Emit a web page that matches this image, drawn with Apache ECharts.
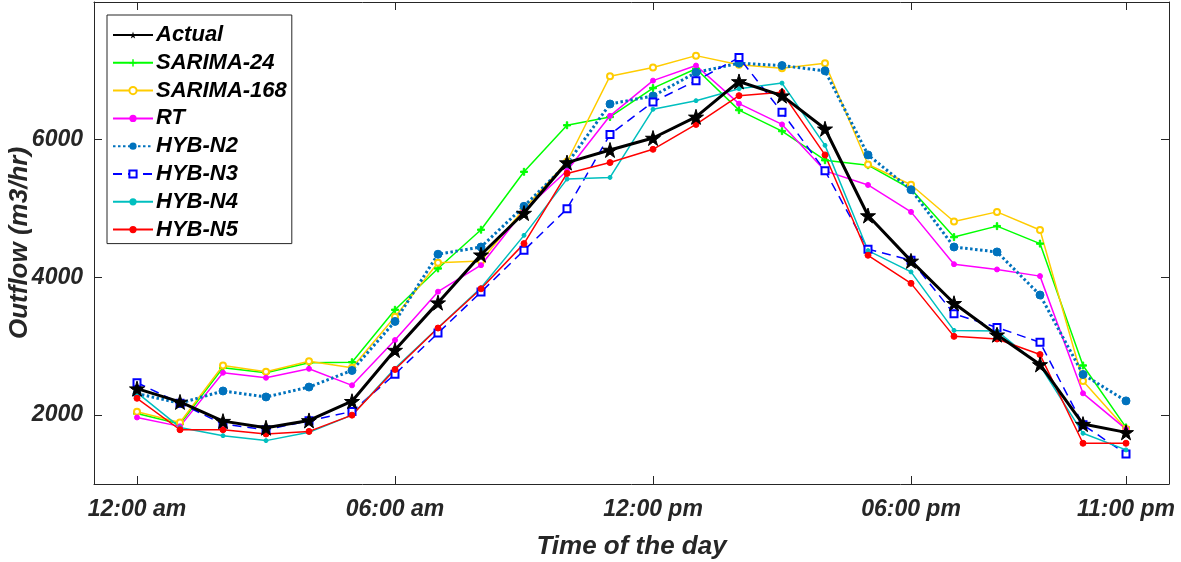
<!DOCTYPE html>
<html>
<head>
<meta charset="utf-8">
<script src="https://cdn.jsdelivr.net/npm/echarts@6/dist/echarts.min.js"></script>
<style>
html,body{margin:0;padding:0;background:#fff;}
#chart{width:1181px;height:562px;}
</style>
</head>
<body>
<div id="chart"></div>
<script>
// ---- data ----
const hours = [0,1,2,3,4,5,6,7,8,9,10,11,12,13,14,15,16,17,18,19,20,21,22,23];
const xTickValues = [0, 6, 12, 18, 23];
const xTickLabels = ['12:00 am', '06:00 am', '12:00 pm', '06:00 pm', '11:00 pm'];
const yTickValues = [2000, 4000, 6000];
const seriesNames = ['Actual','SARIMA-24','SARIMA-168','RT','HYB-N2','HYB-N3','HYB-N4','HYB-N5'];

const actual    = [2385,2192,1913,1817,1923,2202,2945,3634,4330,4935,5668,5851,6025,6332,6846,6640,6159,4899,4240,3625,3168,2736,1870,1750];
const sarima24  = [2024,1870,2688,2616,2760,2769,3530,4130,4693,5534,6210,6330,6750,7030,6430,6125,5702,5630,5284,4586,4745,4491,2721,1822];
const sarima168 = [2048,1894,2721,2630,2784,2688,3428,4212,4238,4996,5680,6923,7048,7221,7088,7038,7110,5640,5346,4813,4952,4688,2495,1798];
const rt        = [1966,1837,2616,2543,2673,2433,3090,3793,4178,4971,5550,6347,6858,7077,6524,6222,5548,5343,4952,4192,4116,4019,2317,1798];
const hybN2     = [2313,2173,2351,2264,2408,2649,3361,4337,4442,5033,5650,6519,6635,6976,7111,7077,7000,5779,5274,4442,4370,3745,2591,2207];
const hybN3     = [2472,2173,1870,1788,1918,2053,2595,3192,3788,4394,4996,6077,6548,6856,7193,6399,5548,4409,4250,3471,3274,3057,1860,1437];
const hybN4     = [2327,1822,1702,1630,1750,2000,2680,3270,3850,4611,5428,5452,6442,6567,6740,6822,5918,4390,4080,3231,3222,2720,1736,1495];
const hybN5     = [2245,1788,1788,1726,1764,2000,2663,3265,3835,4491,5510,5668,5861,6222,6640,6688,5779,4322,3914,3144,3106,2880,1592,1592];

const pair = arr => arr.map((v, i) => [hours[i], v]);

const FONT = '"Liberation Sans", Arial, sans-serif';
const AX = '#262626';
const starPath = 'path://M50,0 L61,35 L98,35 L68,57 L79,91 L50,70 L21,91 L32,57 L2,35 L39,35 Z';
const plusPath = 'path://M4,0 H6 V4 H10 V6 H6 V10 H4 V6 H0 V4 H4 Z';

function line(name, data, color, width, type, symbol, size, extra) {
  return Object.assign({
    name: name, type: 'line', data: pair(data),
    xAxisIndex: 0, yAxisIndex: 0,
    symbol: symbol, symbolSize: size, showSymbol: true,
    lineStyle: { color: color, width: width, type: type },
    itemStyle: { color: color, borderColor: color },
    emphasis: { disabled: true },
    z: 2
  }, extra || {});
}

const series = [
  line('SARIMA-24', sarima24, '#00FF00', 1.5, 'solid', plusPath, 7),
  line('SARIMA-168', sarima168, '#FFCC00', 1.5, 'solid', 'emptyCircle', 6, {itemStyle:{color:'#FFCC00', borderColor:'#FFCC00', borderWidth:1.2}}),
  line('RT', rt, '#FF00FF', 1.5, 'solid', 'circle', 5),
  line('HYB-N2', hybN2, '#0072BD', 3, [2.5, 2.5], 'circle', 8),
  line('HYB-N3', hybN3, '#0000FF', 1.5, [9, 6], 'emptyRect', 7, {itemStyle:{color:'#0000FF', borderColor:'#0000FF', borderWidth:1.2}}),
  line('HYB-N4', hybN4, '#00BFBF', 1.5, 'solid', 'circle', 4),
  line('HYB-N5', hybN5, '#FF0000', 1.5, 'solid', 'circle', 6),
  line('Actual', actual, '#000000', 3, 'solid', starPath, 15, {z: 5})
];

const chart = echarts.init(document.getElementById('chart'), null, { renderer: 'canvas' });
chart.setOption({
  animation: false,
  backgroundColor: '#ffffff',
  grid: { left: 94, right: 12, top: 2, bottom: 78, containLabel: false, outerBoundsMode: 'none' },
  legend: {
    data: seriesNames,
    orient: 'vertical',
    left: 107, top: 15,
    padding: [9, 5, 3, 5],
    itemWidth: 40, itemHeight: 9, itemGap: 5.8,
    borderColor: AX, borderWidth: 1,
    backgroundColor: '#fff',
    textStyle: { fontFamily: FONT, fontSize: 22, fontWeight: 'bold', fontStyle: 'italic', color: '#000', lineHeight: 22, padding: [0,0,0,-2] },
    selectedMode: false
  },
  xAxis: [{
    type: 'value', min: -1, max: 24, position: 'bottom',
    axisLine: { show: true, onZero: false, lineStyle: { color: AX, width: 1 } },
    axisTick: { show: true, inside: true, length: 8, customValues: xTickValues, lineStyle: { color: AX } },
    axisLabel: {
      customValues: xTickValues, margin: 14,
      formatter: v => xTickLabels[xTickValues.indexOf(v)],
      fontFamily: FONT, fontSize: 23, fontWeight: 'bold', fontStyle: 'italic', color: '#262626'
    },
    splitLine: { show: false },
    name: 'Time of the day', nameLocation: 'middle', nameGap: 50, nameMoveOverlap: false,
    nameTextStyle: { fontFamily: FONT, fontSize: 26, fontWeight: 'bold', fontStyle: 'italic', color: '#262626' }
  }, {
    type: 'value', min: -1, max: 24, position: 'top',
    axisLine: { show: true, onZero: false, lineStyle: { color: AX, width: 1 } },
    axisTick: { show: true, inside: true, length: 8, customValues: xTickValues, lineStyle: { color: AX } },
    axisLabel: { show: false },
    splitLine: { show: false }
  }],
  yAxis: [{
    type: 'value', min: 1000, max: 8000, position: 'left',
    axisLine: { show: true, onZero: false, lineStyle: { color: AX, width: 1 } },
    axisTick: { show: true, inside: true, length: 8, customValues: yTickValues, lineStyle: { color: AX } },
    axisLabel: {
      customValues: yTickValues, margin: 11,
      formatter: v => String(v),
      fontFamily: FONT, fontSize: 23, fontWeight: 'bold', fontStyle: 'italic', color: '#262626'
    },
    splitLine: { show: false },
    name: 'Outflow (m3/hr)', nameLocation: 'middle', nameGap: 61, nameMoveOverlap: false,
    nameTextStyle: { fontFamily: FONT, fontSize: 26, fontWeight: 'bold', fontStyle: 'italic', color: '#262626' }
  }, {
    type: 'value', min: 1000, max: 8000, position: 'right',
    axisLine: { show: true, onZero: false, lineStyle: { color: AX, width: 1 } },
    axisTick: { show: true, inside: true, length: 8, customValues: yTickValues, lineStyle: { color: AX } },
    axisLabel: { show: false },
    splitLine: { show: false }
  }],
  series: series
});
</script>
</body>
</html>
